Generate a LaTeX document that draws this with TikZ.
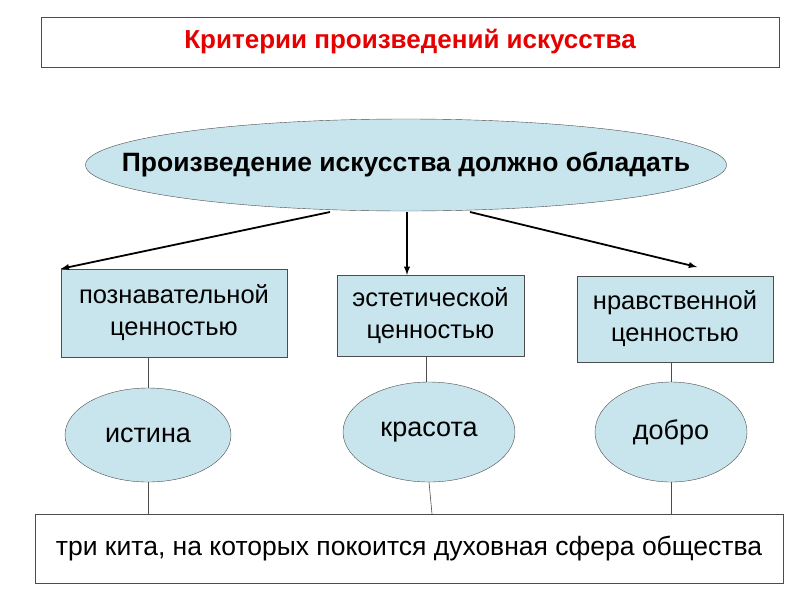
\documentclass[tikz,border=0pt]{standalone}
\usepackage{fontspec}
\setmainfont{Liberation Sans}
\usetikzlibrary{shapes.geometric}
\definecolor{paleblue}{RGB}{200,228,236}
\definecolor{titlered}{RGB}{230,0,0}
\tikzset{
  valbox/.style={draw=black!70,fill=paleblue,align=center,font=\fontsize{25.5}{32}\selectfont,inner sep=0pt},
  valoval/.style={ellipse,draw=black!70,fill=paleblue,font=\fontsize{27}{32}\selectfont,inner sep=0pt},
  plainbox/.style={draw=black!70,fill=white,inner sep=0pt},
  link/.style={draw=black!70,line width=0.6pt},
  arr/.style={-latex,line width=1.8pt}
}
\begin{document}
\begin{tikzpicture}[x=1pt,y=-1pt]
  \useasboundingbox (0,0) rectangle (800,600);
  % title
  \node[plainbox,minimum width=738pt,minimum height=50pt] (title) at (410,42)
    {\fontsize{26}{30}\selectfont\bfseries\color{titlered}Критерии произведений искусства};
  \node[valoval,minimum width=641pt,minimum height=92pt,
    label={[font=\fontsize{26.5}{30}\selectfont\bfseries]center:Произведение искусства должно обладать}] (main) at (406,165) {};
  % three values
  \node[valbox,minimum width=226pt,minimum height=88pt] (cog) at (174,313) {познавательной\\ценностью};
  \node[valbox,minimum width=187pt,minimum height=81pt] (aes) at (430.5,315.5) {эстетической\\ценностью};
  \node[valbox,minimum width=196pt,minimum height=86pt] (mor) at (675,319) {нравственной\\ценностью};
  \node[valoval,minimum width=166pt,minimum height=94pt] (truth) at (148,435) {истина};
  \node[valoval,minimum width=172pt,minimum height=100pt] (beauty) at (429,432) {красота};
  \node[valoval,minimum width=152pt,minimum height=100pt] (good) at (671,432) {добро};
  \node[plainbox,minimum width=748pt,minimum height=69pt,font=\fontsize{26.5}{30}\selectfont] (base) at (409,548.5)
    {три кита, на которых покоится духовная сфера общества};
  % arrows
  \coordinate (m1) at (330,212); \coordinate (m2) at (407,212); \coordinate (m3) at (470,212);
  \draw[arr] (m1) -- (cog.north west);
  \draw[arr] (m2) -- (aes.north -| m2);
  \draw[arr] (m3) -- (697,267);
  % links
  \draw[link] (cog.south -| truth) -- (truth.north);
  \draw[link] (truth.south) -- (base.north -| truth);
  \draw[link] (aes.south -| 426,0) -- (426,382);
  \draw[link] (beauty.south) -- (432,514);
  \draw[link] (mor.south -| good) -- (good.north);
  \draw[link] (good.south) -- (base.north -| good);
\end{tikzpicture}
\end{document}
